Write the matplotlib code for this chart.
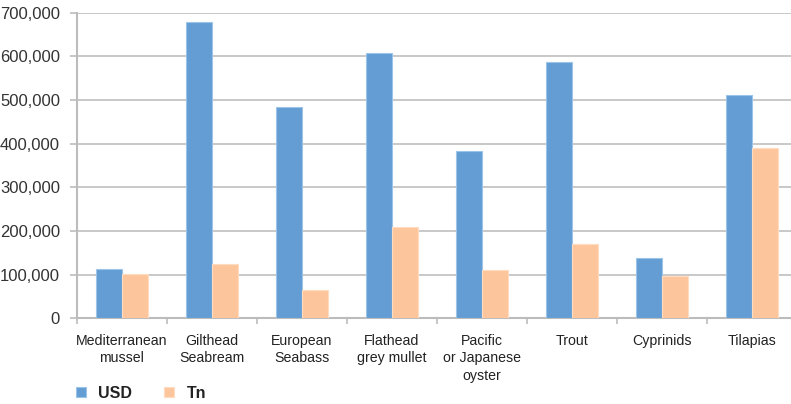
import matplotlib
matplotlib.use("Agg")
import matplotlib.pyplot as plt
import numpy as np
from matplotlib.ticker import FuncFormatter, FixedLocator

categories = ["Mediterranean\nmussel", "Gilthead\nSeabream", "European\nSeabass",
              "Flathead\ngrey mullet", "Pacific\nor Japanese\noyster", "Trout",
              "Cyprinids", "Tilapias"]
usd = [112000, 679000, 485000, 607000, 383000, 586000, 138000, 511000]
tn = [101000, 125000, 64000, 209000, 110000, 170000, 98000, 389000]
series_names = ["USD", "Tn"]

blue = "#639DD3"
orange = "#FDC59B"

plt.rcParams["font.family"] = ["Liberation Sans", "DejaVu Sans"]

fig = plt.figure(figsize=(7.91, 4.04), dpi=100)
W, H = 791, 404
left, right = 76.7, 796.7
bottom, top = 318.3, 12.7
ax = fig.add_axes([left / W, (H - bottom) / H, (right - left) / W, (bottom - top) / H])

x = np.arange(len(categories))
bw = 0.289
b1 = ax.bar(x - bw / 2, usd, bw, color=blue, edgecolor="#9cc3e8", linewidth=0.8, label=series_names[0], zorder=3)
b2 = ax.bar(x + bw / 2, tn, bw, color=orange, edgecolor="#fddcc2", linewidth=0.8, label=series_names[1], zorder=3)

ax.set_xlim(-0.5, len(categories) - 0.5)
ax.set_ylim(0, 700000)
ax.set_yticks(np.arange(0, 700001, 100000))
ax.yaxis.set_major_formatter(FuncFormatter(lambda v, p: f"{int(v):,}"))
ax.grid(axis="y", color="#c8c8c8", linewidth=1.4, zorder=0)
ax.set_axisbelow(True)

for s in ["top", "right"]:
    ax.spines[s].set_visible(False)
for s in ["left", "bottom"]:
    ax.spines[s].set_color("#bcbcbc")
    ax.spines[s].set_linewidth(1.5)

ax.set_xticks(x)
ax.set_xticklabels(categories, fontsize=10.2, color="#222222", linespacing=1.35)
ax.xaxis.set_minor_locator(FixedLocator(np.arange(-0.5, len(categories), 1.0)))
ax.tick_params(axis="x", which="major", length=0, pad=11)
ax.tick_params(axis="x", which="minor", length=4, color="#bcbcbc", width=1.2)
ax.tick_params(axis="y", length=5, color="#bcbcbc", width=1.2, pad=7, labelsize=12, labelcolor="#333333")

leg = fig.legend(handles=[b1, b2], labels=series_names, loc="center left",
                 bbox_to_anchor=(76 / W, 11 / H), ncol=2, frameon=False,
                 borderpad=0, borderaxespad=0,
                 handlelength=0.6, handleheight=0.6, handletextpad=0.8, columnspacing=2.0,
                 prop={"weight": "bold", "size": 11.5})
for t in leg.get_texts():
    t.set_color("#222222")

fig.savefig("out.png", dpi=100)
